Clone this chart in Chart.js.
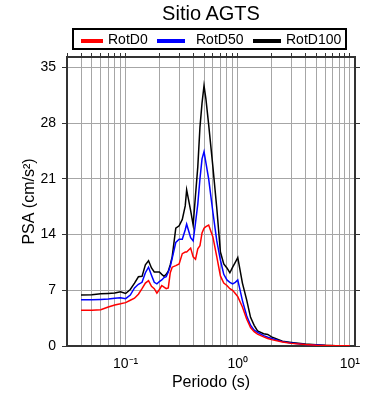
<!DOCTYPE html>
<html>
<head>
<meta charset="utf-8">
<script src="https://cdn.jsdelivr.net/npm/chart.js@4/dist/chart.umd.min.js"></script>
<style>
  body { margin: 0; background: #fff; font-family: "Liberation Sans", Arial, sans-serif; }
  #wrap { position: relative; width: 390px; height: 400px; }
  #chart { position: absolute; left: 0; top: 0; }
  #title { position: absolute; left: 0; width: 422px; top: 2px; text-align: center; font-size: 20px; color: #000; }
  #legend { position: absolute; left: 72px; top: 28px; width: 271px; height: 18px; border: 2px solid #000; background: #fff; }
  #legend .sw { position: absolute; top: 9px; height: 4px; }
  #legend .lb { position: absolute; top: 1px; font-size: 14px; line-height: 16px; color: #000; }
</style>
</head>
<body>
<div id="wrap">
  <canvas id="chart" width="390" height="400"></canvas>
  <div id="title">Sitio AGTS</div>
  <div id="legend"></div>
</div>
<script>
// ===== DATA =====
var periods = [0.04, 0.05, 0.06, 0.07, 0.08, 0.09, 0.1, 0.11, 0.12, 0.13, 0.14, 0.15, 0.16, 0.17, 0.18, 0.19,
    0.2, 0.21, 0.22, 0.23, 0.24, 0.25, 0.26, 0.28, 0.3, 0.32, 0.34, 0.35, 0.38, 0.4, 0.42, 0.44, 0.46, 0.48,
    0.5, 0.52, 0.55, 0.6, 0.65, 0.7, 0.75, 0.8, 0.85, 0.9, 0.95, 1.0, 1.1, 1.2, 1.3, 1.4, 1.5, 1.7, 1.85,
    2.0, 2.5, 3.0, 4.0, 5.0, 6.0, 7.5, 10];

var rotD0 = [4.5, 4.5, 4.55, 4.9, 5.15, 5.3, 5.45, 5.75, 6.0, 6.5, 7.2, 7.9, 8.2, 7.5, 7.2, 6.65,
    7.1, 7.6, 7.4, 7.2, 7.3, 9.2, 9.9, 10.1, 10.3, 11.6, 11.8, 11.8, 12.3, 11.2, 10.9, 12.2, 12.6, 14.2,
    14.8, 15.0, 15.2, 13.7, 11.2, 8.8, 7.9, 7.6, 7.2, 7.0, 6.6, 6.2, 4.9, 3.4, 2.3, 1.8, 1.5, 1.15, 0.95,
    0.8, 0.5, 0.33, 0.18, 0.1, 0.06, 0.03, 0.02];

var rotD50 = [5.8, 5.8, 5.85, 5.9, 6.0, 6.05, 5.95, 6.4, 7.3, 7.75, 8.0, 9.2, 9.9, 8.9, 8.0, 7.8,
    8.1, 8.3, 8.6, 8.7, 9.3, 10.0, 11.0, 13.0, 13.4, 13.4, 14.6, 15.3, 13.6, 13.2, 15.5, 17.8, 21.0, 23.5,
    24.4, 23.0, 21.0, 16.8, 13.2, 10.8, 9.0, 8.3, 8.0, 7.8, 8.0, 8.3, 5.7, 3.8, 2.6, 2.0, 1.7, 1.3, 1.1,
    0.95, 0.55, 0.38, 0.2, 0.12, 0.07, 0.04, 0.02];

var rotD100 = [6.4, 6.45, 6.55, 6.6, 6.65, 6.8, 6.6, 7.1, 7.9, 8.7, 8.75, 10.2, 10.7, 9.8, 9.3, 9.3,
    9.3, 9.0, 8.75, 9.0, 9.4, 10.2, 11.2, 14.8, 15.1, 15.9, 17.6, 19.6, 17.0, 15.2, 19.0, 22.5, 27.5, 30.5,
    32.7, 31.0, 27.8, 22.5, 17.3, 11.8, 10.3, 9.8, 9.2, 9.9, 10.5, 11.1, 7.9, 5.8, 3.6, 2.6, 1.9, 1.55, 1.45,
    1.15, 0.6, 0.45, 0.25, 0.15, 0.08, 0.04, 0.02];

var seriesNames = ['RotD0', 'RotD50', 'RotD100'];
var seriesColors = ['#ff0000', '#0000ff', '#000000'];

var xTicks = [0.03, 0.04, 0.05, 0.06, 0.07, 0.08, 0.09, 0.1, 0.2, 0.3, 0.4, 0.5, 0.6, 0.7, 0.8, 0.9,
    1, 2, 3, 4, 5, 6, 7, 8, 9, 10];
var xTickLabels = { 0.1: '10\u207B\u00B9', 1: '10\u2070', 10: '10\u00B9' };
var yTicks = [0, 7, 14, 21, 28, 35];

var xMin = 0.03, xMax = 11.1;
var yMin = 0, yMax = 36.3;

// ===== LEGEND =====
var legendItems = [
    { sw: 7, sww: 22, lb: 34 },
    { sw: 83, sww: 28, lb: 122 },
    { sw: 179, sww: 28, lb: 212 }
];
var legend = document.getElementById('legend');
seriesNames.forEach(function(name, i) {
    var s = document.createElement('span');
    s.className = 'sw';
    s.style.left = legendItems[i].sw + 'px';
    s.style.width = legendItems[i].sww + 'px';
    s.style.background = seriesColors[i];
    legend.appendChild(s);
    var l = document.createElement('span');
    l.className = 'lb';
    l.style.left = legendItems[i].lb + 'px';
    l.textContent = name;
    legend.appendChild(l);
});

// ===== CHART =====
var FONT = '"Liberation Sans", Arial, sans-serif';
var frame = { color: '#333', width: 2 };

function setTicks(list) {
    return function(scale) {
        scale.ticks = list.map(function(v) { return { value: v }; });
    };
}

function toPoints(vals) {
    return periods.map(function(p, i) { return { x: p, y: vals[i] }; });
}

var seriesValues = [rotD0, rotD50, rotD100];

new Chart(document.getElementById('chart'), {
    type: 'line',
    data: {
        datasets: seriesNames.map(function(name, i) {
            return {
                label: name,
                data: toPoints(seriesValues[i]),
                borderColor: seriesColors[i],
                borderWidth: 1.5,
                pointRadius: 0,
                tension: 0,
                fill: false
            };
        })
    },
    options: {
        responsive: false,
        animation: false,
        events: [],
        layout: { padding: 0 },
        plugins: { legend: { display: false }, title: { display: false }, tooltip: { enabled: false } },
        scales: {
            x: {
                type: 'logarithmic',
                position: 'bottom',
                min: xMin, max: xMax,
                afterBuildTicks: setTicks(xTicks),
                afterFit: function(s) { s.height = 54; },
                grid: { color: '#a6a6a6', lineWidth: 1, drawTicks: false },
                border: frame,
                ticks: {
                    autoSkip: false, maxRotation: 0, padding: 10,
                    color: '#000', font: { family: FONT, size: 14 },
                    callback: function(v) { return xTickLabels[v] || ''; }
                },
                title: { display: true, text: 'Periodo (s)', color: '#000',
                    font: { family: FONT, size: 16 }, padding: { top: 0, bottom: 8 } }
            },
            x2: {
                type: 'logarithmic',
                position: 'top',
                min: xMin, max: xMax,
                afterBuildTicks: setTicks(xTicks),
                afterFit: function(s) { s.height = 57; },
                grid: { drawOnChartArea: false, drawTicks: true, tickLength: 4, tickColor: '#333' },
                border: frame,
                ticks: { display: false }
            },
            y: {
                type: 'linear',
                position: 'left',
                min: yMin, max: yMax,
                afterBuildTicks: setTicks(yTicks),
                afterFit: function(s) { s.width = 67; },
                grid: { color: '#a6a6a6', lineWidth: 1, drawTicks: true, tickLength: 5, tickColor: '#333' },
                border: frame,
                ticks: { padding: 6, color: '#000', font: { family: FONT, size: 14 } },
                title: { display: true, text: 'PSA (cm/s\u00B2)', color: '#000',
                    font: { family: FONT, size: 16 }, padding: { top: 20, bottom: 0 } }
            },
            y2: {
                type: 'linear',
                position: 'right',
                min: yMin, max: yMax,
                afterBuildTicks: setTicks(yTicks),
                afterFit: function(s) { s.width = 35; },
                grid: { drawOnChartArea: false, drawTicks: true, tickLength: 5, tickColor: '#333' },
                border: frame,
                ticks: { display: false }
            }
        }
    }
});
</script>
</body>
</html>
